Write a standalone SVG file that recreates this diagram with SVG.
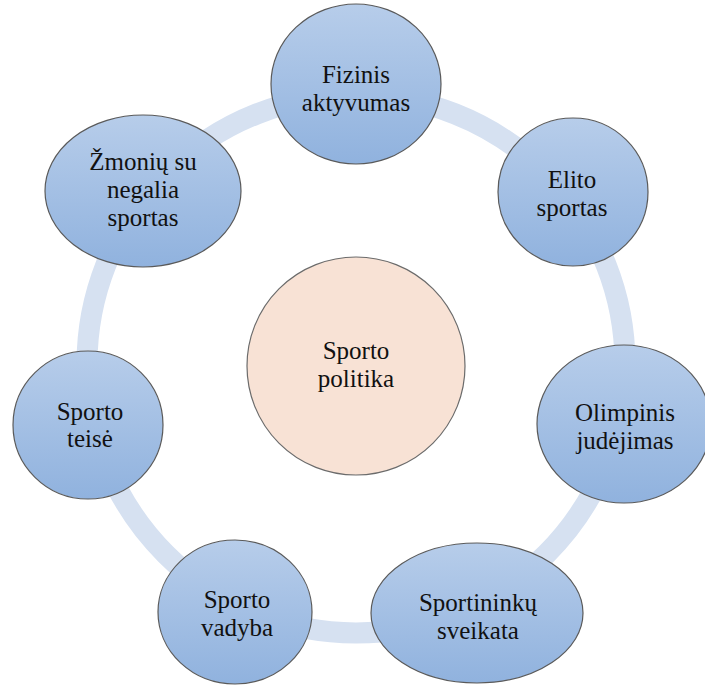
<svg xmlns="http://www.w3.org/2000/svg" width="705" height="685" viewBox="0 0 705 685">
  <style>
    .node { stroke: #5a5a5a; stroke-width: 1.2; fill: url(#blueFill); }
    .hub { stroke: #6b6b6b; stroke-width: 1.2; fill: #f8e2d5; }
    .label { font-size: 25px; fill: #111; text-anchor: middle; }
  </style>
  <defs>
    <linearGradient id="blueFill" x1="0" y1="0" x2="0" y2="1">
      <stop offset="0" stop-color="#b7cdea"/>
      <stop offset="1" stop-color="#90b2de"/>
    </linearGradient>
  </defs>

  <rect width="705" height="685" fill="#ffffff"/>

  <!-- cycle ring behind the nodes -->
  <g id="connectors">
    <circle cx="356" cy="364" r="269" fill="none" stroke="#d6e1f1" stroke-width="21"/>
  </g>

  <g font-family="'Liberation Serif', 'DejaVu Serif', serif">
    <g id="hub">
      <circle class="hub" cx="356" cy="366" r="109"/>
      <text class="label" x="356" y="359">Sporto</text>
      <text class="label" x="356" y="387">politika</text>
    </g>

    <g id="fizinis">
      <ellipse class="node" cx="356" cy="84" rx="85" ry="80"/>
      <text class="label" x="356" y="83">Fizinis</text>
      <text class="label" x="356" y="111">aktyvumas</text>
    </g>

    <g id="elito">
      <ellipse class="node" cx="573" cy="192" rx="75" ry="74"/>
      <text class="label" x="572" y="188">Elito</text>
      <text class="label" x="572" y="216">sportas</text>
    </g>

    <g id="olimpinis">
      <ellipse class="node" cx="624" cy="424" rx="87" ry="79"/>
      <text class="label" x="625" y="421">Olimpinis</text>
      <text class="label" x="625" y="449">judėjimas</text>
    </g>

    <g id="sveikata">
      <ellipse class="node" cx="477" cy="613" rx="106" ry="70"/>
      <text class="label" x="478" y="611">Sportininkų</text>
      <text class="label" x="478" y="639">sveikata</text>
    </g>

    <g id="vadyba">
      <ellipse class="node" cx="235" cy="612" rx="77" ry="72"/>
      <text class="label" x="237" y="608">Sporto</text>
      <text class="label" x="237" y="636">vadyba</text>
    </g>

    <g id="teise">
      <ellipse class="node" cx="88" cy="425" rx="75" ry="74"/>
      <text class="label" x="90" y="420">Sporto</text>
      <text class="label" x="90" y="447">teisė</text>
    </g>

    <g id="zmoniu">
      <ellipse class="node" cx="143" cy="191" rx="98" ry="76"/>
      <text class="label" x="143" y="170">Žmonių su</text>
      <text class="label" x="143" y="198">negalia</text>
      <text class="label" x="143" y="226">sportas</text>
    </g>
  </g>
</svg>
